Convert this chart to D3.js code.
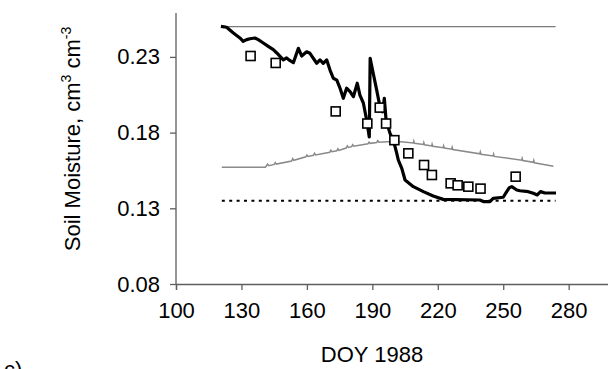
<!DOCTYPE html>
<html><head><meta charset="utf-8">
<script src="https://cdnjs.cloudflare.com/ajax/libs/d3/7.8.5/d3.min.js"></script>
<style>body{margin:0;background:#fff}svg{display:block}text{font-family:"Liberation Sans",Arial,sans-serif;fill:#000}</style>
</head><body><svg id="c" width="608" height="369"></svg>
<script>
const xTicks=[100,130,160,190,220,250,280];
const yTicks=[0.08,0.13,0.18,0.23];
const xLabel="DOY 1988";
const panelLabel="c)";
// saturation (upper gray) line
const satDays=[121,274];
const satValue=0.250;
// wilting point (dotted)
const wpDays=[121,274];
const wpValue=0.135;
// gray sawtooth line [day, value]
const grayLine=[[121,0.1571],[141,0.1571],[142,0.1592],[142.5,0.1582],[145,0.1590],[145.5,0.1602],[146,0.1592],[153,0.1612],[153.5,0.1628],[154,0.1617],[159.5,0.1640],[160,0.1652],[160.5,0.1642],[163,0.1650],[163.5,0.1664],[164,0.1652],[170.5,0.1670],[171,0.1684],[171.5,0.1674],[173.7,0.1680],[174.2,0.1693],[174.7,0.1682],[178,0.1698],[178.5,0.1712],[179,0.1702],[180.5,0.1707],[181,0.1720],[181.5,0.1710],[188,0.1726],[188.5,0.1738],[189,0.1729],[192,0.1735],[192.5,0.1747],[193,0.1737],[197,0.1740],[203,0.1740],[208.8,0.1732],[209,0.1744],[209.3,0.1730],[213.4,0.1722],[213.6,0.1734],[213.9,0.1720],[217.2,0.1712],[217.4,0.1724],[217.7,0.1710],[222.5,0.1700],[222.7,0.1712],[223,0.1698],[226.4,0.1690],[226.6,0.1702],[226.9,0.1688],[239.3,0.1660],[239.5,0.1672],[239.8,0.1657],[245.4,0.1646],[245.6,0.1658],[245.9,0.1643],[258.5,0.1618],[258.7,0.1630],[259,0.1615],[263.8,0.1604],[264,0.1616],[264.3,0.1601],[273,0.1578]];
// simulated soil moisture (black)
const simDays=[120.6,123.2,126.3,129.3,130.8,132.4,133.9,136.2,137.7,140.0,142.3,144.6,146.2,147.7,149.2,150.7,152.3,153.8,156.1,157.6,159.9,161.4,164.5,166.0,167.5,169.1,170.6,172.1,173.7,175.2,176.7,178.2,179.8,181.3,183.1,184.3,185.9,187.1,188.1,188.6,189.0,190.4,192.0,193.5,194.7,195.5,196.3,198.1,199.6,200.4,201.2,201.9,203.5,205.0,208.8,213.4,217.9,222.5,239.3,240.9,243.9,245.4,250.0,251.6,252.8,253.9,256.2,257.7,261.5,263.8,265.6,267.1,269.1,274.2];
const simValues=[0.2502,0.2496,0.2458,0.2425,0.2403,0.2414,0.2420,0.2425,0.2414,0.2392,0.2370,0.2348,0.2326,0.2304,0.2281,0.2293,0.2275,0.2262,0.2357,0.2306,0.2334,0.2324,0.2258,0.2280,0.2258,0.2280,0.2213,0.2159,0.2147,0.2093,0.2027,0.2093,0.2070,0.2037,0.2126,0.2048,0.1994,0.1905,0.1817,0.1771,0.2291,0.2192,0.2081,0.1971,0.1938,0.2027,0.1883,0.1795,0.1751,0.1707,0.1663,0.1619,0.1564,0.1487,0.1443,0.1410,0.1381,0.1359,0.1355,0.1344,0.1344,0.1366,0.1373,0.1410,0.1436,0.1443,0.1421,0.1416,0.1410,0.1399,0.1388,0.1410,0.1401,0.1401];
// observed (squares)
const obsDays=[134.2,145.7,173.2,187.7,193.4,196.3,200.1,206.5,213.7,217.3,225.9,229.1,234.0,239.6,255.7];
const obsValues=[0.2306,0.2260,0.1940,0.1860,0.1965,0.1860,0.1750,0.1663,0.1586,0.1520,0.1465,0.1452,0.1443,0.1430,0.1509];

const svg=d3.select("#c");
const x=d3.scaleLinear().domain([100,300]).range([176,612.3]);
const y=d3.scaleLinear().domain([0.08,0.259]).range([284,13]);
const axisColor="#5e5e5e";
const fs=22;

// axes
const gx=svg.append("g").attr("transform","translate(0,284)")
 .call(d3.axisBottom(x).tickValues(xTicks).tickSize(6).tickPadding(12).tickFormat(d3.format("d")));
const gy=svg.append("g").attr("transform","translate(176,0)")
 .call(d3.axisLeft(y).tickValues(yTicks).tickSize(6).tickPadding(10).tickFormat(d3.format(".2f")));
[gx,gy].forEach(g=>{
 g.select(".domain").attr("stroke",axisColor).attr("stroke-width",1.3);
 g.selectAll(".tick line").attr("stroke",axisColor).attr("stroke-width",1.3);
 g.selectAll(".tick text").attr("font-size",fs).attr("fill","#000").attr("font-family","Liberation Sans, Arial, sans-serif");
});
gy.select(".domain").attr("d","M0,284V13");

// saturation line
svg.append("line").attr("x1",x(satDays[0])).attr("x2",x(satDays[1]))
 .attr("y1",y(satValue)).attr("y2",y(satValue)).attr("stroke","#7a7a7a").attr("stroke-width",1.4);
// wilting point dotted
svg.append("line").attr("x1",x(wpDays[0])).attr("x2",x(wpDays[1]))
 .attr("y1",y(wpValue)).attr("y2",y(wpValue)).attr("stroke","#000").attr("stroke-width",2).attr("stroke-dasharray","3,4.4");
// gray sawtooth
svg.append("path").datum(grayLine).attr("fill","none").attr("stroke","#8a8a8a").attr("stroke-width",1.5)
 .attr("d",d3.line().x(d=>x(d[0])).y(d=>y(d[1])));
// simulated black
const sim=simDays.map((d,i)=>[d,simValues[i]]);
svg.append("path").datum(sim).attr("fill","none").attr("stroke","#000").attr("stroke-width",3.2).attr("stroke-linejoin","round")
 .attr("d",d3.line().x(d=>x(d[0])).y(d=>y(d[1])));
// observations
const obs=obsDays.map((d,i)=>[d,obsValues[i]]);
const s=9;
svg.append("g").selectAll("rect").data(obs).join("rect")
 .attr("x",d=>x(d[0])-s/2).attr("y",d=>y(d[1])-s/2).attr("width",s).attr("height",s)
 .attr("fill","#fff").attr("stroke","#000").attr("stroke-width",1.6);

// labels
svg.append("text").attr("x",372).attr("y",362).attr("text-anchor","middle").attr("font-size",fs).text(xLabel);
svg.append("text").attr("x",4).attr("y",377).attr("font-size",fs).text(panelLabel);
const yl=svg.append("text").attr("transform","translate(80,139) rotate(-90)").attr("text-anchor","middle").attr("font-size",fs);
yl.append("tspan").text("Soil Moisture, cm");
yl.append("tspan").attr("dy",-9).attr("font-size",14).text("3");
yl.append("tspan").attr("dy",9).text(" cm");
yl.append("tspan").attr("dy",-9).attr("font-size",14).text("-3");
</script></body></html>
